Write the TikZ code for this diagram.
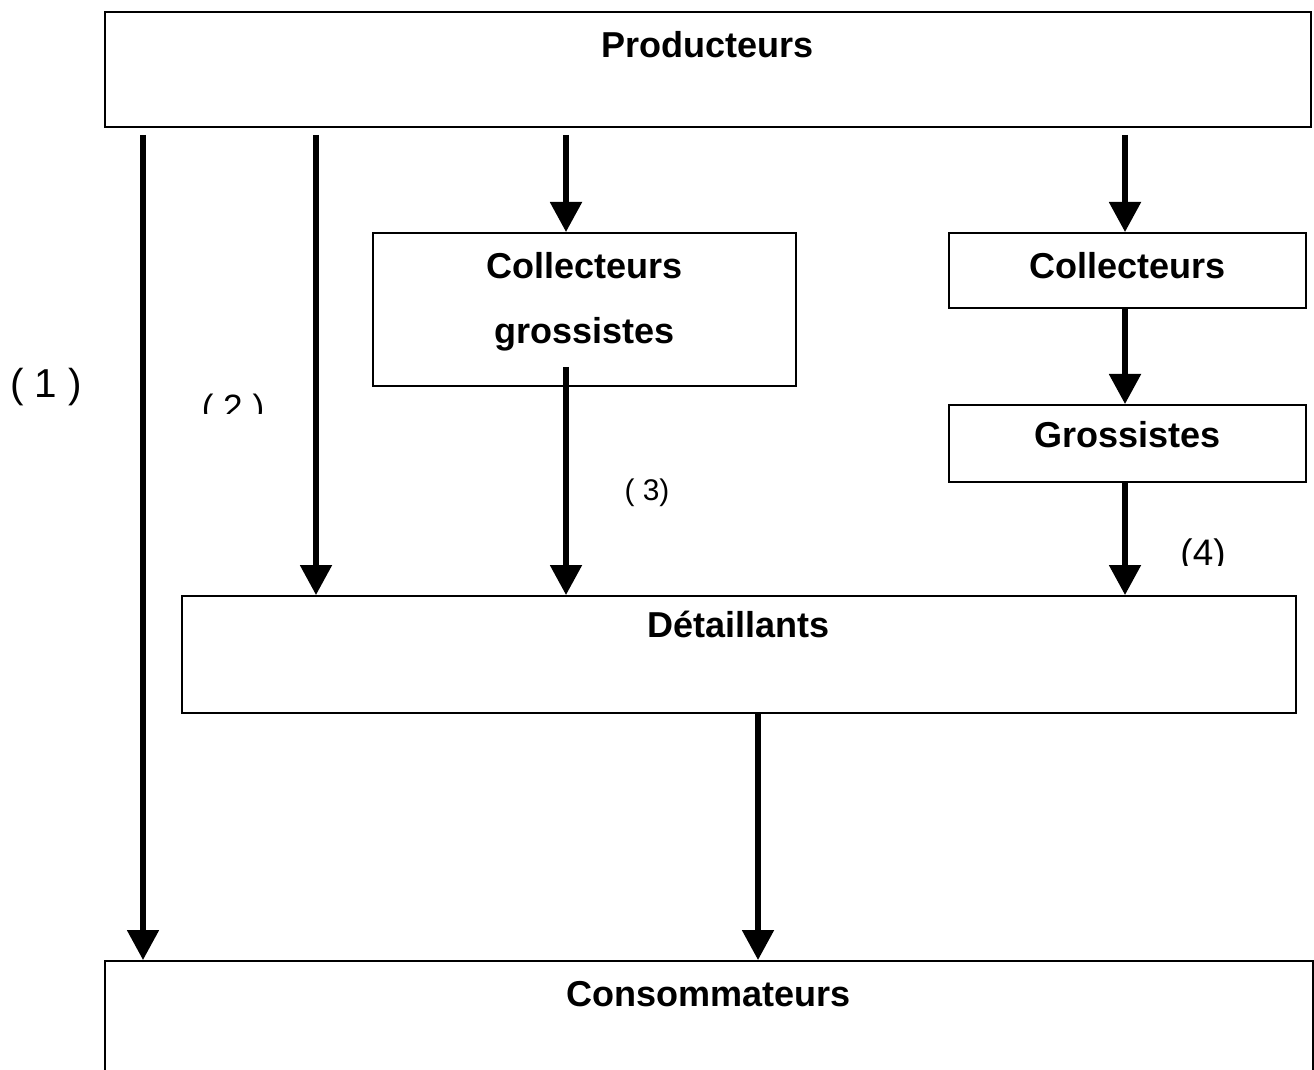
\documentclass[tikz,border=0pt]{standalone}
\usepackage{fontspec}
\setmainfont{Liberation Sans}
\usetikzlibrary{arrows.meta,positioning}

\begin{document}
\begin{tikzpicture}[
  box/.style={draw, line width=0.9pt, inner sep=0pt, anchor=north west,
              align=center, font=\fontsize{20.5}{37}\selectfont\bfseries},
  arr/.style={-{Triangle[width=0.62cm, length=0.6cm]}, line width=3pt},
  num/.style={font=\fontsize{21}{25}\selectfont, anchor=base},
]
\useasboundingbox (0,0) rectangle (26.28,-21.4);

% boxes
\node[box, minimum width=24.12cm, text height=0.92cm, text depth=1.38cm]
      (prod) at (2.08,-0.22) {Producteurs};
\node[box, minimum width=8.46cm, text height=2.21cm, text depth=0.85cm]
      (cg) at (7.44,-4.64) {Collecteurs\\grossistes};
\node[box, minimum width=7.14cm, text height=0.91cm, text depth=0.59cm]
      (col) at (18.96,-4.64) {Collecteurs};
\node[box, minimum width=7.14cm, text height=0.86cm, text depth=0.68cm]
      (gro) at (18.96,-8.08) {Grossistes};
\node[box, minimum width=22.28cm, text height=0.84cm, text depth=1.5cm]
      (det) at (3.62,-11.9) {Détaillants};
\node[box, minimum width=24.16cm, text height=0.91cm, text depth=1.5cm]
      (cons) at (2.08,-19.2) {Consommateurs};

% free starts of the arrows
\coordinate (s1) at (2.86,-2.7);
\coordinate (s2) at (6.32,-2.7);
\coordinate (s3) at (11.32,-2.7);
\coordinate (s4) at (22.5,-2.7);
\coordinate (s5) at (11.32,-7.34);
\coordinate (s6) at (15.16,-14.24);

\draw[arr] (s1) -- (s1 |- cons.north);
\draw[arr] (s2) -- (s2 |- det.north);
\draw[arr] (s3) -- (s3 |- cg.north);
\draw[arr] (s4) -- (s4 |- col.north);
\draw[arr] (s4 |- col.south) -- (s4 |- gro.north);
\draw[arr] (s4 |- gro.south) -- (s4 |- det.north);
\draw[arr] (s5) -- (s5 |- det.north);
\draw[arr] (s6) -- (s6 |- cons.north);

% channel numbers
\node[num, font=\fontsize{23}{27}\selectfont] (n1) at (0.92,-7.95) {( 1 )};
\begin{scope}
  \clip (3.5,-7.6) rectangle (6,-8.26);
  \node[num, font=\fontsize{20}{24}\selectfont] (n2) at (4.66,-8.38) {( 2 )};
\end{scope}
\node[num, font=\fontsize{17}{20}\selectfont] (n3) at (12.94,-10.0) {( 3)};
\begin{scope}
  \clip (22.9,-10.3) rectangle (25,-11.3);
  \node[num] (n4) at (24.06,-11.3) {(4)};
\end{scope}
\end{tikzpicture}
\end{document}
